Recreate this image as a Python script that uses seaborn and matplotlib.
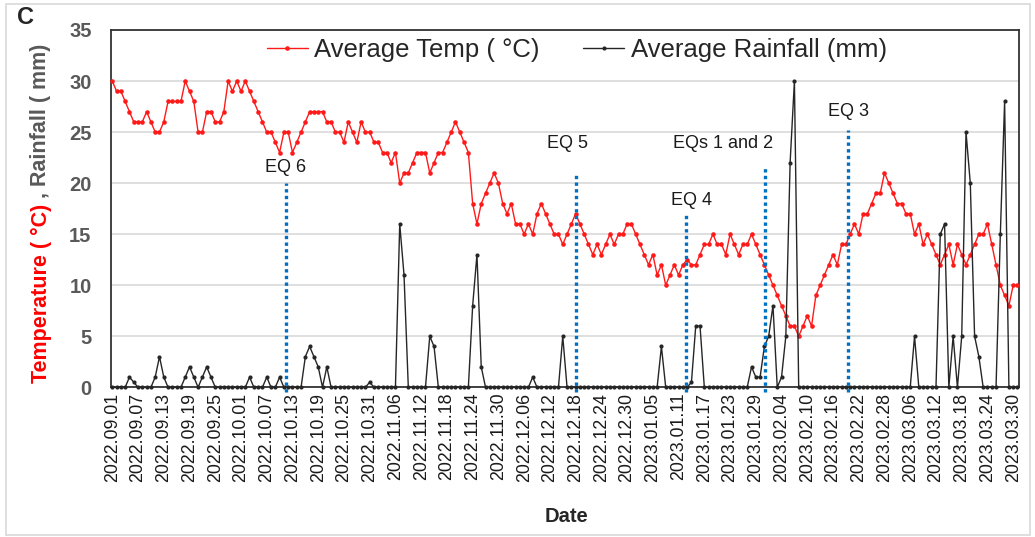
import numpy as np
import pandas as pd
import seaborn as sns
import matplotlib.pyplot as plt
from matplotlib.patches import Rectangle

# daily values 2022.09.01 -> 2023.03.31
dates = pd.date_range("2022-09-01", "2023-03-31", freq="D")

temp = [30, 29, 29, 28, 27, 26, 26, 26, 27, 26,
        25, 25, 26, 28, 28, 28, 28, 30, 29, 28,
        25, 25, 27, 27, 26, 26, 27, 30, 29, 30,
        29, 30, 29, 28, 27, 26, 25, 25, 24, 23,
        25, 25, 23, 24, 25, 26, 27, 27, 27, 27,
        26, 26, 25, 25, 24, 26, 25, 24, 26, 25,
        25, 24, 24, 23, 23, 22, 23, 20, 21, 21,
        22, 23, 23, 23, 21, 22, 23, 23, 24, 25,
        26, 25, 24, 23, 18, 16, 18, 19, 20, 21,
        20, 18, 17, 18, 16, 16, 15, 16, 15, 17,
        18, 17, 16, 15, 15, 14, 15, 16, 17, 16,
        15, 14, 13, 14, 13, 14, 15, 14, 15, 15,
        16, 16, 15, 14, 13, 12, 13, 11, 12, 10,
        11, 12, 11, 12, 12.5, 12, 12, 13, 14, 14,
        15, 14, 14, 13, 15, 14, 13, 14, 14, 15,
        14, 13, 12, 11, 10, 9, 8, 7, 6, 6,
        5, 6, 7, 6, 9, 10, 11, 12, 13, 12,
        14, 14, 15, 16, 15, 17, 17, 18, 19, 19,
        21, 20, 19, 18, 18, 17, 17, 15, 16, 14,
        15, 14, 13, 12, 13, 14, 12, 14, 13, 12,
        13, 14, 15, 15, 16, 14, 12, 10, 9, 8,
        10, 10]

rain = [0, 0, 0, 0, 1, 0.5, 0, 0, 0, 0,
        1, 3, 1, 0, 0, 0, 0, 1, 2, 1,
        0, 1, 2, 1, 0, 0, 0, 0, 0, 0,
        0, 0, 1, 0, 0, 0, 1, 0, 0, 1,
        0, 0, 0, 0, 0, 3, 4, 3, 2, 0,
        2, 0, 0, 0, 0, 0, 0, 0, 0, 0,
        0.5, 0, 0, 0, 0, 0, 0, 16, 11, 0,
        0, 0, 0, 0, 5, 4, 0, 0, 0, 0,
        0, 0, 0, 0, 8, 13, 2, 0, 0, 0,
        0, 0, 0, 0, 0, 0, 0, 0, 1, 0,
        0, 0, 0, 0, 0, 5, 0, 0, 0, 0,
        0, 0, 0, 0, 0, 0, 0, 0, 0, 0,
        0, 0, 0, 0, 0, 0, 0, 0, 4, 0,
        0, 0, 0, 0, 0, 0.5, 6, 6, 0, 0,
        0, 0, 0, 0, 0, 0, 0, 0, 0, 2,
        1, 1, 4, 5, 8, 0, 1, 5, 22, 30,
        0, 0, 0, 0, 0, 0, 0, 0, 0, 0,
        0, 0, 0, 0, 0, 0, 0, 0, 0, 0,
        0, 0, 0, 0, 0, 0, 0, 5, 0, 0,
        0, 0, 0, 15, 16, 0, 5, 0, 5, 25,
        20, 5, 3, 0, 0, 0, 0, 15, 28, 0,
        0, 0]

# earthquake markers (day index from 2022.09.01) and the height of each dotted line
eq_names = ["EQ 6", "EQ 5", "EQ 4", "EQs 1 and 2", "EQ 3"]
eq_day = [40.6, 108.2, 133.8, 152.1, 171.5]
eq_top = [20, 21, 17, 21.5, 25.2]
# where the labels sit (day, value)
eq_label_pos = [(40.3, 21.5), (106.2, 23.9), (134.9, 18.3), (142.3, 23.9), (171.5, 27)]

df = pd.DataFrame({"day": np.arange(len(dates)), "temp": temp, "rain": rain})

sns.set_theme(style="white")
plt.rcParams["font.family"] = ["Liberation Sans", "DejaVu Sans"]

W, H = 1035, 537
fig = plt.figure(figsize=(W / 100, H / 100), dpi=100)
px_day = 4.29
x0 = 112.3 - 0.3 * px_day
ax = fig.add_axes([x0 / W, 1 - 387.3 / H, (211.6 * px_day) / W, 357.3 / H])

sns.lineplot(data=df, x="day", y="temp", ax=ax, color="#ff1a1a", linewidth=1.0,
             marker="o", markersize=3.3, markeredgewidth=0, label="Average Temp ( °C)",
             zorder=3, clip_on=False)
sns.lineplot(data=df, x="day", y="rain", ax=ax, color="#262626", linewidth=1.0,
             marker="o", markersize=3.0, markeredgewidth=0, label="Average Rainfall (mm)",
             zorder=3, clip_on=False)

for d, top in zip(eq_day, eq_top):
    ax.plot([d, d], [-0.5, top], color="#0070c0", lw=2.4, ls=(0, (1, 1)),
            zorder=4, clip_on=False)
for name, (lx, ly) in zip(eq_names, eq_label_pos):
    ax.text(lx, ly, name, fontsize=13, color="#1a1a1a", ha="center", va="center")

ax.set_xlim(-0.3, 211.3)
ax.set_ylim(0, 35)
ax.set_yticks(range(0, 36, 5))
ax.grid(axis="y", color="#d9d9d9", lw=1.2)
ax.set_axisbelow(True)

tick_days = list(range(0, len(dates), 6))
ax.set_xticks(tick_days)
ax.set_xticklabels([dates[i].strftime("%Y.%m.%d") for i in tick_days],
                   rotation=90, fontsize=12.8, color="#1a1a1a")
ax.tick_params(axis="x", length=0, pad=4)
ax.tick_params(axis="y", length=0, pad=14, labelsize=14.5, labelcolor="#595959")
for lab in ax.get_yticklabels():
    lab.set_fontweight("bold")
ax.set_xlabel("")
ax.set_ylabel("")

for s in ax.spines.values():
    s.set_color("#333333")
    s.set_linewidth(1.3)

ax.legend(loc="center", bbox_to_anchor=(0.513, 0.944), ncol=2, frameon=False,
          fontsize=18.5, handlelength=1.6, handletextpad=0.25, columnspacing=1.7)

fig.text(25 / W, 1 - 17 / H, "C", fontsize=17, fontweight="bold", ha="center", va="center")
fig.text(566 / W, 1 - 516 / H, "Date", fontsize=14.5, fontweight="bold", ha="center", va="center")

# two-colour y label
fig.canvas.draw()
r = fig.canvas.get_renderer()
t1 = fig.text(41 / W, 1 - 383 / H, "Temperature ( °C)", rotation=90, color="#ff0000",
              fontsize=15.5, fontweight="bold", ha="center", va="bottom")
bb = t1.get_window_extent(renderer=r)
fig.text(41 / W, bb.y1 / fig.bbox.height, " , Rainfall ( mm)", rotation=90, color="#595959",
         fontsize=15.5, fontweight="bold", ha="center", va="bottom")

fig.patches.append(Rectangle((6 / W, 2 / H), 1024 / W, 531 / H, transform=fig.transFigure,
                             fill=False, ec="#d9d9d9", lw=1.2))

fig.savefig("out.png", dpi=100, facecolor="white")
